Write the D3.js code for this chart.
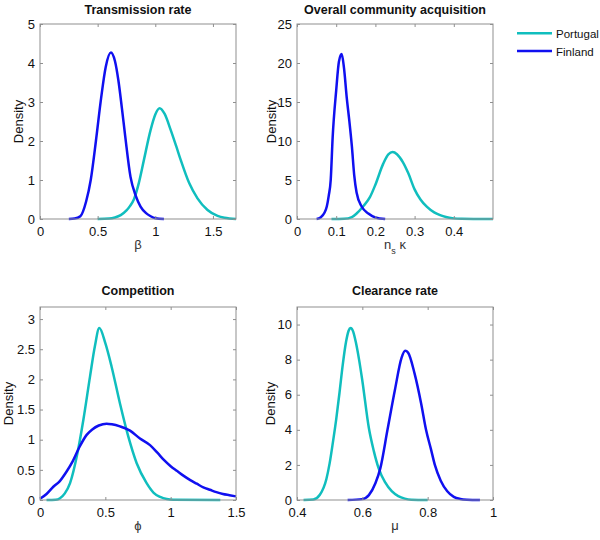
<!DOCTYPE html>
<html>
<head>
<meta charset="utf-8">
<script src="https://cdn.jsdelivr.net/npm/d3@7"></script>
<style>
  body { margin: 0; background: #fff; }
  svg { font-family: "Liberation Sans", Arial, Helvetica, sans-serif; }
</style>
</head>
<body>
<svg id="chart" width="600" height="540"></svg>
<script>
// ---- Data ----
const seriesNames = ["Portugal", "Finland"];
const seriesColors = ["#10bebe", "#1010f0"];

// Panel 1: Transmission rate (beta)
const betaPortugal = [[0.5,0],[0.6,0.01],[0.65,0.04],[0.7,0.1],[0.75,0.22],[0.78,0.33],[0.814,0.5],[0.857,0.92],[0.901,1.51],[0.959,2.28],[1.0,2.68],[1.038,2.84],[1.08,2.7],[1.134,2.28],[1.18,1.88],[1.221,1.51],[1.294,0.92],[1.366,0.53],[1.453,0.23],[1.54,0.08],[1.6,0.03],[1.7,0]];
const betaFinland = [[0.25,0],[0.3,0.01],[0.35,0.07],[0.4,0.45],[0.44,1.0],[0.485,2.0],[0.53,3.1],[0.57,3.9],[0.615,4.27],[0.65,4.05],[0.68,3.55],[0.71,2.85],[0.74,2.1],[0.785,1.08],[0.83,0.6],[0.872,0.32],[0.92,0.15],[0.96,0.07],[1.0,0.02],[1.075,0]];

// Panel 2: Overall community acquisition (n_s kappa)
const kappaPortugal = [[0.088,0],[0.12,0.03],[0.14,0.25],[0.152,0.7],[0.17,1.7],[0.186,2.8],[0.2,4.4],[0.22,7.1],[0.233,8.3],[0.244,8.58],[0.255,8.3],[0.27,7.3],[0.284,5.86],[0.3,3.8],[0.315,2.5],[0.331,1.58],[0.35,0.85],[0.365,0.5],[0.38,0.25],[0.4,0.08],[0.42,0.02],[0.45,0],[0.5,0]];
const kappaFinland = [[0.05,0],[0.06,0.2],[0.07,0.8],[0.076,1.6],[0.081,3.0],[0.086,5.0],[0.091,10.5],[0.1,16.5],[0.107,20.2],[0.114,21.15],[0.12,19.3],[0.127,15.5],[0.133,12.8],[0.14,9.3],[0.146,5.6],[0.152,3.4],[0.165,1.6],[0.182,0.7],[0.2,0.2],[0.225,0]];

// Panel 3: Competition (phi)
const phiPortugal = [[0.05,0],[0.12,0.005],[0.153,0.03],[0.19,0.11],[0.23,0.28],[0.286,0.77],[0.332,1.33],[0.383,2.05],[0.42,2.55],[0.454,2.85],[0.5,2.6],[0.548,2.21],[0.612,1.6],[0.676,1.05],[0.74,0.61],[0.816,0.28],[0.87,0.12],[0.92,0.05],[0.97,0.015],[1.02,0.004],[1.38,0]];
const phiFinland = [[0,0.02],[0.05,0.1],[0.102,0.22],[0.15,0.31],[0.2,0.46],[0.25,0.64],[0.3,0.87],[0.357,1.08],[0.4,1.17],[0.45,1.235],[0.51,1.265],[0.55,1.255],[0.612,1.22],[0.689,1.15],[0.765,1.02],[0.842,0.91],[0.9,0.78],[0.95,0.66],[1.0,0.56],[1.05,0.48],[1.1,0.4],[1.15,0.33],[1.2,0.27],[1.25,0.21],[1.3,0.17],[1.35,0.13],[1.4,0.1],[1.45,0.08],[1.5,0.06]];

// Panel 4: Clearance rate (mu)
const muPortugal = [[0.42,0],[0.45,0.03],[0.47,0.3],[0.49,1.2],[0.5,2.1],[0.51,3.3],[0.52,4.6],[0.53,6.1],[0.54,7.7],[0.55,9.0],[0.558,9.65],[0.564,9.8],[0.572,9.6],[0.58,9.0],[0.59,8.0],[0.6,6.8],[0.62,4.1],[0.635,2.8],[0.65,1.8],[0.67,1.0],[0.69,0.5],[0.71,0.22],[0.73,0.08],[0.75,0.02],[0.8,0]];
const muFinland = [[0.555,0],[0.6,0.05],[0.62,0.28],[0.64,0.95],[0.655,1.8],[0.677,4.0],[0.7,6.3],[0.72,8.1],[0.731,8.5],[0.74,8.4],[0.76,7.2],[0.78,5.5],[0.795,4.0],[0.81,2.9],[0.822,2.0],[0.84,1.1],[0.86,0.5],[0.88,0.18],[0.9,0.06],[0.92,0.02],[0.96,0]];

// Axis ticks
const betaXTicks = [0, 0.5, 1, 1.5];
const betaYTicks = [0, 1, 2, 3, 4, 5];
const kappaXTicks = [0, 0.1, 0.2, 0.3, 0.4];
const kappaYTicks = [0, 5, 10, 15, 20, 25];
const phiXTicks = [0, 0.5, 1, 1.5];
const phiYTicks = [0, 0.5, 1, 1.5, 2, 2.5, 3];
const muXTicks = [0.4, 0.6, 0.8, 1];
const muYTicks = [0, 2, 4, 6, 8, 10];

const panels = [
  { title: "Transmission rate", xlabel: "β", series: [betaPortugal, betaFinland],
    xDomain: [0, 1.7], yDomain: [0, 5], xTicks: betaXTicks, yTicks: betaYTicks,
    box: { x0: 40, x1: 236, y0: 24, y1: 219 }, titleY: 14, ylabX: 18.5 },
  { title: "Overall community acquisition", xlabel: null, series: [kappaPortugal, kappaFinland],
    xDomain: [0, 0.5], yDomain: [0, 25], xTicks: kappaXTicks, yTicks: kappaYTicks,
    box: { x0: 297, x1: 493, y0: 24, y1: 219 }, titleY: 14, ylabX: 271 },
  { title: "Competition", xlabel: "ϕ", series: [phiPortugal, phiFinland],
    xDomain: [0, 1.5], yDomain: [0, 3.2], xTicks: phiXTicks, yTicks: phiYTicks,
    box: { x0: 40, x1: 236, y0: 307, y1: 500 }, titleY: 295, ylabX: 8.5 },
  { title: "Clearance rate", xlabel: "μ", series: [muPortugal, muFinland],
    xDomain: [0.4, 1], yDomain: [0, 11], xTicks: muXTicks, yTicks: muYTicks,
    box: { x0: 297, x1: 493, y0: 307, y1: 500 }, titleY: 295, ylabX: 270 }
];

const svg = d3.select("#chart");
const fmt = d => String(d);
const axisColor = "#8f8f8f";

panels.forEach((p, i) => {
  const b = p.box;
  const x = d3.scaleLinear().domain(p.xDomain).range([b.x0, b.x1]);
  const y = d3.scaleLinear().domain(p.yDomain).range([b.y1, b.y0]);
  const g = svg.append("g");

  // curves
  const line = d3.line().x(d => x(d[0])).y(d => y(d[1])).curve(d3.curveMonotoneX);
  p.series.forEach((s, k) => {
    g.append("path").datum(s).attr("d", line)
      .attr("fill", "none").attr("stroke", seriesColors[k])
      .attr("stroke-width", 2.5).attr("stroke-linejoin", "round");
  });

  // axes (ticks pointing inward)
  const styleAxis = sel => {
    sel.select(".domain").remove();
    sel.selectAll(".tick line").attr("stroke", axisColor);
    sel.selectAll(".tick text").attr("fill", "#111").attr("font-size", 13)
      .attr("font-family", "'Liberation Sans', Arial, sans-serif");
  };
  g.append("g").attr("transform", `translate(${b.x0},0)`)
    .call(d3.axisLeft(y).tickValues(p.yTicks).tickFormat(fmt).tickSize(-3).tickPadding(5))
    .call(styleAxis);
  g.append("g").attr("transform", `translate(${b.x1},0)`)
    .call(d3.axisRight(y).tickValues(p.yTicks).tickFormat("").tickSize(-3))
    .call(styleAxis);
  g.append("g").attr("transform", `translate(0,${b.y1})`)
    .call(d3.axisBottom(x).tickValues(p.xTicks).tickFormat(fmt).tickSize(-3).tickPadding(8))
    .call(styleAxis);
  g.append("g").attr("transform", `translate(0,${b.y0})`)
    .call(d3.axisTop(x).tickValues(p.xTicks).tickFormat("").tickSize(-3))
    .call(styleAxis);

  // box
  g.append("rect").attr("x", b.x0).attr("y", b.y0)
    .attr("width", b.x1 - b.x0).attr("height", b.y1 - b.y0)
    .attr("fill", "none").attr("stroke", axisColor).attr("stroke-width", 1);

  const cx = (b.x0 + b.x1) / 2;
  // title
  g.append("text").attr("x", cx).attr("y", p.titleY)
    .attr("text-anchor", "middle").attr("font-weight", "bold").attr("font-size", 12.5)
    .attr("fill", "#111").text(p.title);

  // y label
  g.append("text")
    .attr("transform", `translate(${p.ylabX + 4.5},${(b.y0 + b.y1) / 2}) rotate(-90)`)
    .attr("text-anchor", "middle").attr("font-size", 13).attr("fill", "#111")
    .text("Density");

  // x label
  if (p.xlabel) {
    g.append("text").attr("x", cx).attr("y", b.y1 + 30)
      .attr("text-anchor", "middle").attr("font-size", 13).attr("fill", "#333")
      .text(p.xlabel);
  } else {
    const t = g.append("text").attr("x", cx).attr("y", b.y1 + 30)
      .attr("text-anchor", "middle").attr("font-size", 13).attr("fill", "#333");
    t.append("tspan").text("n");
    t.append("tspan").attr("dy", 5).attr("font-size", 9).text("s");
    t.append("tspan").attr("dy", -5).text(" κ");
  }
});

// legend
const legend = svg.append("g");
seriesNames.forEach((name, k) => {
  const ly = 33.3 + k * 17.7;
  legend.append("line").attr("x1", 517).attr("x2", 552).attr("y1", ly).attr("y2", ly)
    .attr("stroke", seriesColors[k]).attr("stroke-width", 2.5);
  legend.append("text").attr("x", 556).attr("y", ly + 4.8).attr("font-size", 11.5)
    .attr("fill", "#111").text(name);
});
</script>
</body>
</html>
